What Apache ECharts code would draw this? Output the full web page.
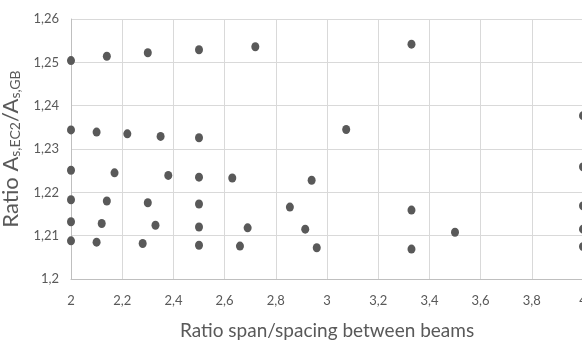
<!DOCTYPE html>
<html>
<head>
<meta charset="utf-8">
<script src="https://cdn.jsdelivr.net/npm/echarts@6/dist/echarts.min.js"></script>
<style>
html,body{margin:0;padding:0;background:#fff;}
#chart{width:582px;height:342px;}
</style>
</head>
<body>
<div id="chart"></div>
<script>
const xTickLabels = ['2','2,2','2,4','2,6','2,8','3','3,2','3,4','3,6','3,8','4'];
const yTickLabels = ['1,2','1,21','1,22','1,23','1,24','1,25','1,26'];

const spanRatio = [
  2.00, 2.14, 2.30, 2.50, 2.72, 3.33,
  2.00, 2.10, 2.22, 2.35, 2.50, 3.075, 4.00,
  2.00, 2.17, 2.38, 2.50, 2.63, 2.94, 4.00,
  2.00, 2.14, 2.30, 2.50, 2.855, 3.33, 4.00,
  2.00, 2.12, 2.33, 2.50, 2.69, 2.915, 3.50, 4.00,
  2.00, 2.10, 2.28, 2.50, 2.66, 2.96, 3.33, 4.00
];
const areaRatio = [
  1.2504, 1.2514, 1.2522, 1.2529, 1.2536, 1.2542,
  1.2344, 1.2339, 1.2335, 1.2329, 1.2326, 1.2345, 1.2377,
  1.2251, 1.2245, 1.2239, 1.2235, 1.2233, 1.2228, 1.2259,
  1.2183, 1.2180, 1.2176, 1.2173, 1.2166, 1.2159, 1.2169,
  1.2132, 1.2128, 1.2124, 1.2120, 1.2118, 1.2115, 1.2108, 1.2115,
  1.2088, 1.2085, 1.2082, 1.2078, 1.2076, 1.2072, 1.2069, 1.2075
];

const points = spanRatio.map((x, i) => [x, areaRatio[i]]);
const FONT = 'Lato';

const chart = echarts.init(document.getElementById('chart'), null, {renderer: 'canvas'});
chart.setOption({
  animation: false,
  backgroundColor: '#ffffff',
  grid: {left: 71, top: 19, width: 512, height: 260, containLabel: false, outerBoundsMode: 'none'},
  xAxis: {
    type: 'value', min: 2, max: 4, interval: 0.2,
    name: 'Ratio span/spacing between beams',
    nameLocation: 'middle', nameGap: 42,
    nameTextStyle: {fontFamily: FONT, fontSize: 19, color: '#595959'},
    axisLine: {show: true, lineStyle: {color: '#bfbfbf', width: 1}},
    axisTick: {show: false},
    axisLabel: {
      fontFamily: FONT, fontSize: 13, color: '#595959', margin: 15,
      formatter: v => xTickLabels[Math.round((v - 2) / 0.2)]
    },
    splitLine: {show: true, lineStyle: {color: '#d9d9d9', width: 1}}
  },
  yAxis: {
    type: 'value', min: 1.2, max: 1.26, interval: 0.01,
    name: 'Ratio A{sub|s,EC2}/A{sub|s,GB}',
    nameLocation: 'middle', nameGap: 35, nameRotate: 90,
    nameTextStyle: {
      fontFamily: FONT, fontSize: 22, color: '#595959',
      rich: {sub: {fontFamily: FONT, fontSize: 14, color: '#595959', padding: [10, 0, 0, 0]}}
    },
    axisLine: {show: true, lineStyle: {color: '#bfbfbf', width: 1}},
    axisTick: {show: false},
    axisLabel: {
      fontFamily: FONT, fontSize: 13, color: '#595959', margin: 12,
      formatter: v => yTickLabels[Math.round((v - 1.2) / 0.01)]
    },
    splitLine: {show: true, lineStyle: {color: '#d9d9d9', width: 1}}
  },
  series: [{
    type: 'scatter',
    data: points,
    symbol: 'circle',
    symbolSize: [8, 9],
    itemStyle: {color: '#595959', opacity: 1},
    clip: false
  }]
});
</script>
</body>
</html>
